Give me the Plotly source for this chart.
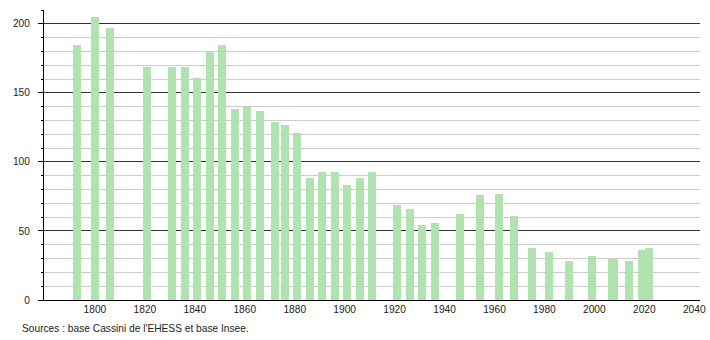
import plotly.graph_objects as go

years = [1793, 1800, 1806, 1821, 1831, 1836, 1841, 1846, 1851, 1856, 1861, 1866,
         1872, 1876, 1881, 1886, 1891, 1896, 1901, 1906, 1911, 1921, 1926, 1931,
         1936, 1946, 1954, 1962, 1968, 1975, 1982, 1990, 1999, 2007, 2008, 2014,
         2019, 2022]
population = [185, 205, 197, 169, 169, 169, 161, 180, 185, 138, 140, 137,
              129, 127, 121, 88, 93, 93, 83, 88, 93, 69, 66, 54,
              56, 62, 76, 77, 61, 38, 35, 28, 32, 30, 30, 28,
              36, 38]
x_ticks = [1800, 1820, 1840, 1860, 1880, 1900, 1920, 1940, 1960, 1980, 2000, 2020, 2040]
y_ticks = [0, 50, 100, 150, 200]
source_text = "Sources : base Cassini de l'EHESS et base Insee."

fig = go.Figure()
fig.add_trace(go.Bar(
    x=years, y=population, width=3.2,
    marker=dict(color="#b1e3b1", line=dict(width=0)),
    hoverinfo="x+y",
))

font = dict(family="Liberation Sans, Arial, sans-serif", size=10.2, color="#222")

fig.update_layout(
    width=710, height=340,
    margin=dict(l=44, r=10, t=10, b=40, autoexpand=False),
    paper_bgcolor="white", plot_bgcolor="white",
    showlegend=False, bargap=0,
    font=font,
    xaxis=dict(
        range=[1779.6, 2042.3], tickvals=x_ticks, ticktext=[str(v) for v in x_ticks],
        showgrid=False, zeroline=False, showline=True, linecolor="black", linewidth=1,
        ticks="", ticklabelstandoff=0, automargin=False,
    ),
    yaxis=dict(
        range=[0, 210], tickvals=y_ticks, ticktext=[str(v) for v in y_ticks],
        showgrid=True, gridcolor="#333333", gridwidth=1, zeroline=False,
        showline=True, linecolor="black", linewidth=1, automargin=False,
        ticks="outside", ticklen=5, tickcolor="black", ticklabelstandoff=6,
        minor=dict(dtick=10, tick0=0, showgrid=True, gridcolor="#cccccc", gridwidth=1,
                   ticks="outside", ticklen=2, tickcolor="black"),
    ),
    annotations=[dict(
        text=source_text, xref="paper", yref="paper",
        x=(20 - 44) / 656, y=(300.5 - 329) / 290.5, xanchor="left", yanchor="middle",
        showarrow=False, font=font,
    )],
)

fig.write_html("out.html")
